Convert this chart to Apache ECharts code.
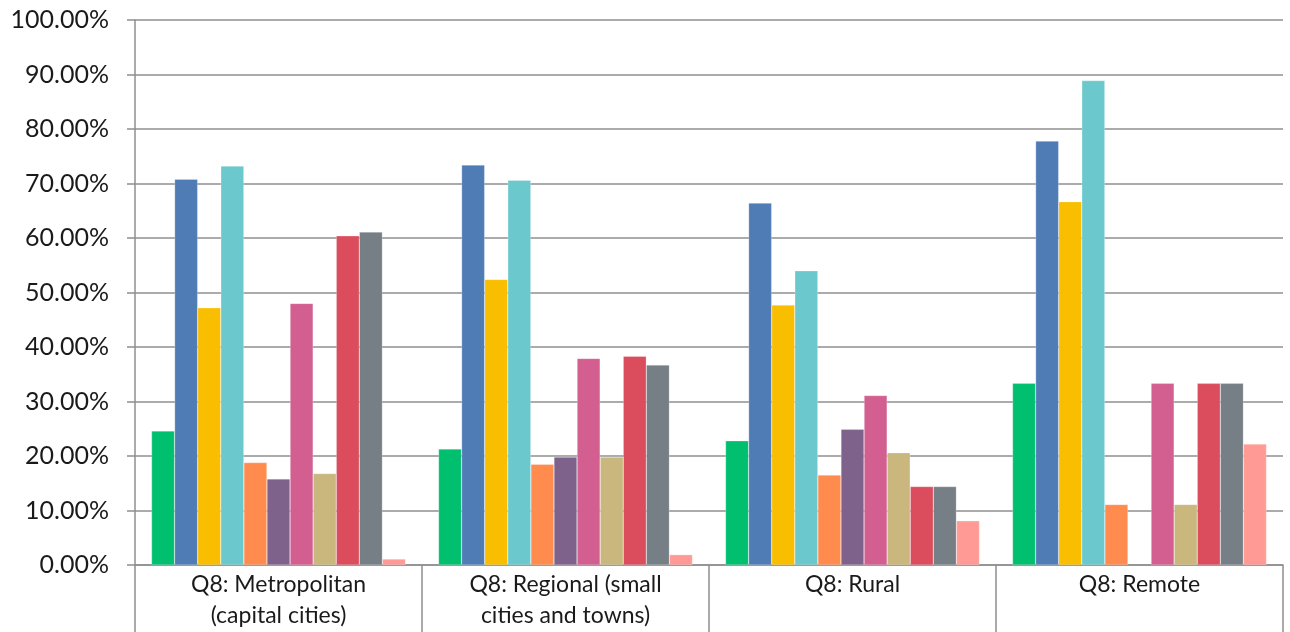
<!DOCTYPE html>
<html>
<head>
<meta charset="utf-8">
<script src="https://cdn.jsdelivr.net/npm/echarts@6/dist/echarts.min.js"></script>
<style>
  html, body { margin: 0; padding: 0; background: #ffffff; }
  #chart { width: 1290px; height: 632px; }
</style>
</head>
<body>
<div id="chart"></div>
<script>
// Location groups on the x axis
const categories = [
  'Q8: Metropolitan\n(capital cities)',
  'Q8: Regional (small\ncities and towns)',
  'Q8: Rural',
  'Q8: Remote'
];

// Share of respondents (percent) for each answer option, per location group
const answerA = [24.6, 21.3, 22.8, 33.33];
const answerB = [70.8, 73.4, 66.4, 77.78];
const answerC = [47.2, 52.4, 47.7, 66.67];
const answerD = [73.2, 70.6, 54.0, 88.89];
const answerE = [18.8, 18.5, 16.5, 11.11];
const answerF = [15.8, 19.8, 24.9, null];
const answerG = [48.0, 37.9, 31.1, 33.33];
const answerH = [16.8, 19.8, 20.6, 11.11];
const answerI = [60.4, 38.3, 14.4, 33.33];
const answerJ = [61.1, 36.7, 14.4, 33.33];
const answerK = [1.1, 1.9, 8.1, 22.22];

// Y axis ticks
const yMin = 0;
const yMax = 100;
const yStep = 10;

const seriesList = [
  { name: 'A', data: answerA, color: '#00BF6F' },
  { name: 'B', data: answerB, color: '#507CB6' },
  { name: 'C', data: answerC, color: '#F9BE00' },
  { name: 'D', data: answerD, color: '#6BC8CD' },
  { name: 'E', data: answerE, color: '#FF8B4F' },
  { name: 'F', data: answerF, color: '#7F628B' },
  { name: 'G', data: answerG, color: '#D25F90' },
  { name: 'H', data: answerH, color: '#C9B77D' },
  { name: 'I', data: answerI, color: '#DB4D5C' },
  { name: 'J', data: answerJ, color: '#767E86' },
  { name: 'K', data: answerK, color: '#FF9B94' }
];

const axisGray = '#8f8f8f';
const textColor = '#1a1a1a';
const fontFamily = 'Lato, "Open Sans", sans-serif';

const chart = echarts.init(document.getElementById('chart'), null, { renderer: 'canvas' });

chart.setOption({
  animation: false,
  backgroundColor: '#ffffff',
  grid: { left: 135, right: 7, top: 20, bottom: 67, containLabel: false },
  xAxis: {
    type: 'category',
    data: categories,
    boundaryGap: true,
    axisLine: { show: true, lineStyle: { color: axisGray, width: 1.5 } },
    axisTick: { show: true, length: 70, lineStyle: { color: axisGray, width: 1.5 } },
    axisLabel: {
      color: textColor,
      fontFamily: fontFamily,
      fontSize: 23,
      lineHeight: 31,
      margin: 4,
      interval: 0
    },
    splitLine: { show: false }
  },
  yAxis: {
    type: 'value',
    min: yMin,
    max: yMax,
    interval: yStep,
    axisLine: { show: true, lineStyle: { color: axisGray, width: 1.5 } },
    axisTick: { show: true, inside: false, length: 8, lineStyle: { color: axisGray, width: 1.5 } },
    axisLabel: {
      color: textColor,
      fontFamily: fontFamily,
      fontSize: 25,
      margin: 26,
      formatter: v => v.toFixed(2) + '%'
    },
    splitLine: { show: true, lineStyle: { color: axisGray, width: 1.5 } }
  },
  series: seriesList.map(s => ({
    name: s.name,
    type: 'bar',
    data: s.data,
    barGap: '0%',
    barCategoryGap: '11.5%',
    itemStyle: { color: s.color, borderColor: 'rgba(255,255,255,0.5)', borderWidth: 0.5 }
  }))
});
</script>
</body>
</html>
